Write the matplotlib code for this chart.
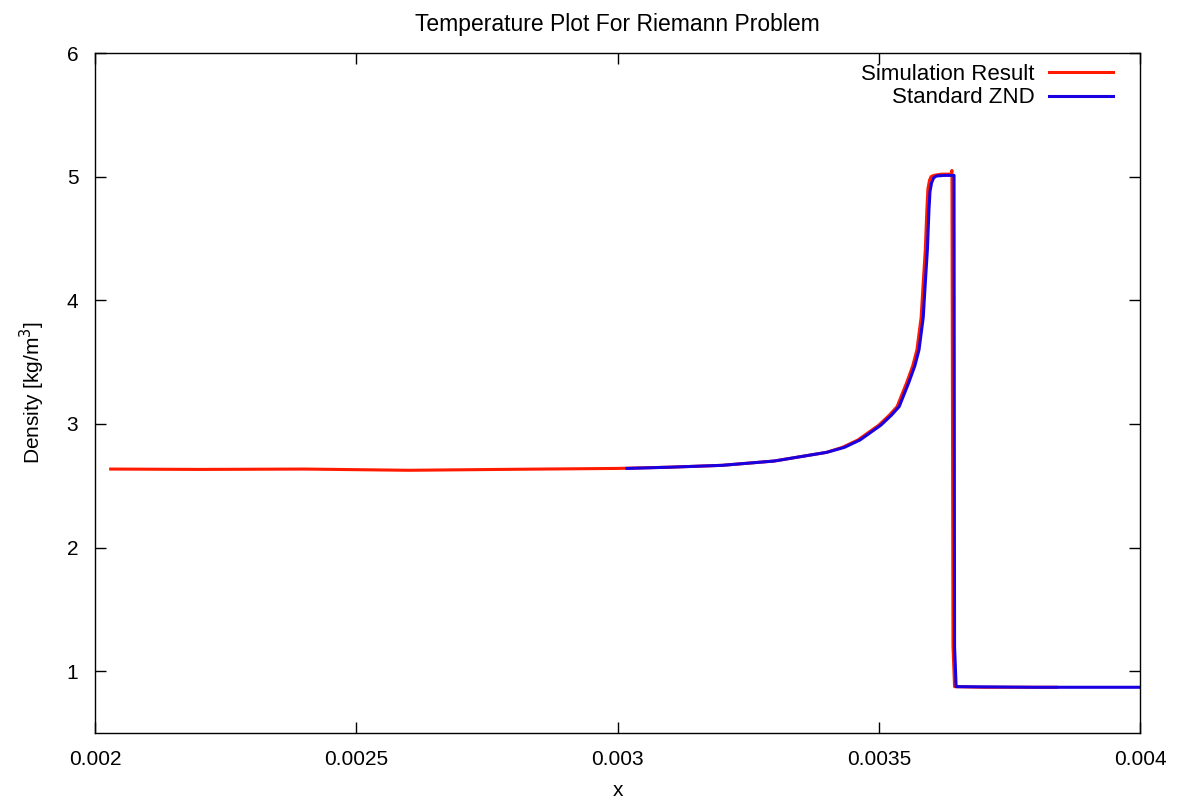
import matplotlib
matplotlib.use('Agg')
import matplotlib.pyplot as plt

plt.rcParams['font.family'] = ['Liberation Sans', 'DejaVu Sans']

# simulation result (red)
sim_x = [0.00203, 0.0022, 0.0024, 0.0026, 0.0028, 0.0030, 0.0031, 0.0032,
         0.0033, 0.0034, 0.00343, 0.00346, 0.00348, 0.0035, 0.00352,
         0.003535, 0.003553, 0.003565, 0.003573, 0.003581, 0.003585,
         0.003589, 0.003592, 0.003594, 0.003597, 0.0036, 0.003605, 0.00362,
         0.003638, 0.00364, 0.003642, 0.003645, 0.0037, 0.00384]
sim_y = [2.635, 2.632, 2.635, 2.625, 2.633, 2.64, 2.65, 2.665,
         2.70, 2.77, 2.81, 2.87, 2.93, 2.99, 3.07,
         3.14, 3.33, 3.47, 3.60, 3.86, 4.14,
         4.41, 4.73, 4.90, 4.97, 5.0, 5.01, 5.02,
         5.02, 5.05, 1.2, 0.875, 0.87, 0.87]

# standard ZND (blue)
znd_x = [0.003018, 0.0031, 0.0032, 0.0033, 0.0034, 0.003434, 0.003464,
         0.003484, 0.003504, 0.003524, 0.003539, 0.003557, 0.003569,
         0.003577, 0.003585, 0.003589, 0.003593, 0.003596, 0.003598,
         0.003601, 0.003605, 0.00361, 0.003625, 0.003644, 0.003645,
         0.003648, 0.0038, 0.004]
znd_y = [2.64, 2.65, 2.665, 2.70, 2.77, 2.81, 2.87,
         2.93, 2.99, 3.07, 3.14, 3.33, 3.47,
         3.60, 3.86, 4.14, 4.41, 4.73, 4.88,
         4.95, 4.99, 5.005, 5.01, 5.01, 1.2,
         0.875, 0.87, 0.87]

fig = plt.figure(figsize=(11.83, 8.08), dpi=100)
ax = fig.add_axes([0.0803, 0.0928, 0.8834, 0.8416])

ax.plot(sim_x, sim_y, color='#ff1a00', lw=2.2, label='Simulation Result')
ax.plot(znd_x, znd_y, color='#1a00e0', lw=2.2, label='Standard ZND')

ax.set_xlim(0.002, 0.004)
ax.set_ylim(0.5, 6)
ax.set_xticks([0.002, 0.0025, 0.003, 0.0035, 0.004])
ax.set_xticklabels(['0.002', '0.0025', '0.003', '0.0035', '0.004'])
ax.set_yticks([1, 2, 3, 4, 5, 6])
ax.tick_params(direction='in', top=True, right=True, length=8, width=1,
               labelsize=15, pad=12)
for s in ax.spines.values():
    s.set_linewidth(1)

ax.set_title('Temperature Plot For Riemann Problem', fontsize=16.5, pad=16)
ax.set_xlabel('x', fontsize=15, labelpad=9)
ax.set_ylabel('Density [kg/m$^3$]', fontsize=15, labelpad=14)

ax.legend(loc='upper right', frameon=False, markerfirst=False, fontsize=16,
          handlelength=2.9, labelspacing=0.1, borderaxespad=0.3,
          handletextpad=0.65, borderpad=0.2,
          bbox_to_anchor=(0.985, 1.0))

fig.savefig('out.png', dpi=100)
